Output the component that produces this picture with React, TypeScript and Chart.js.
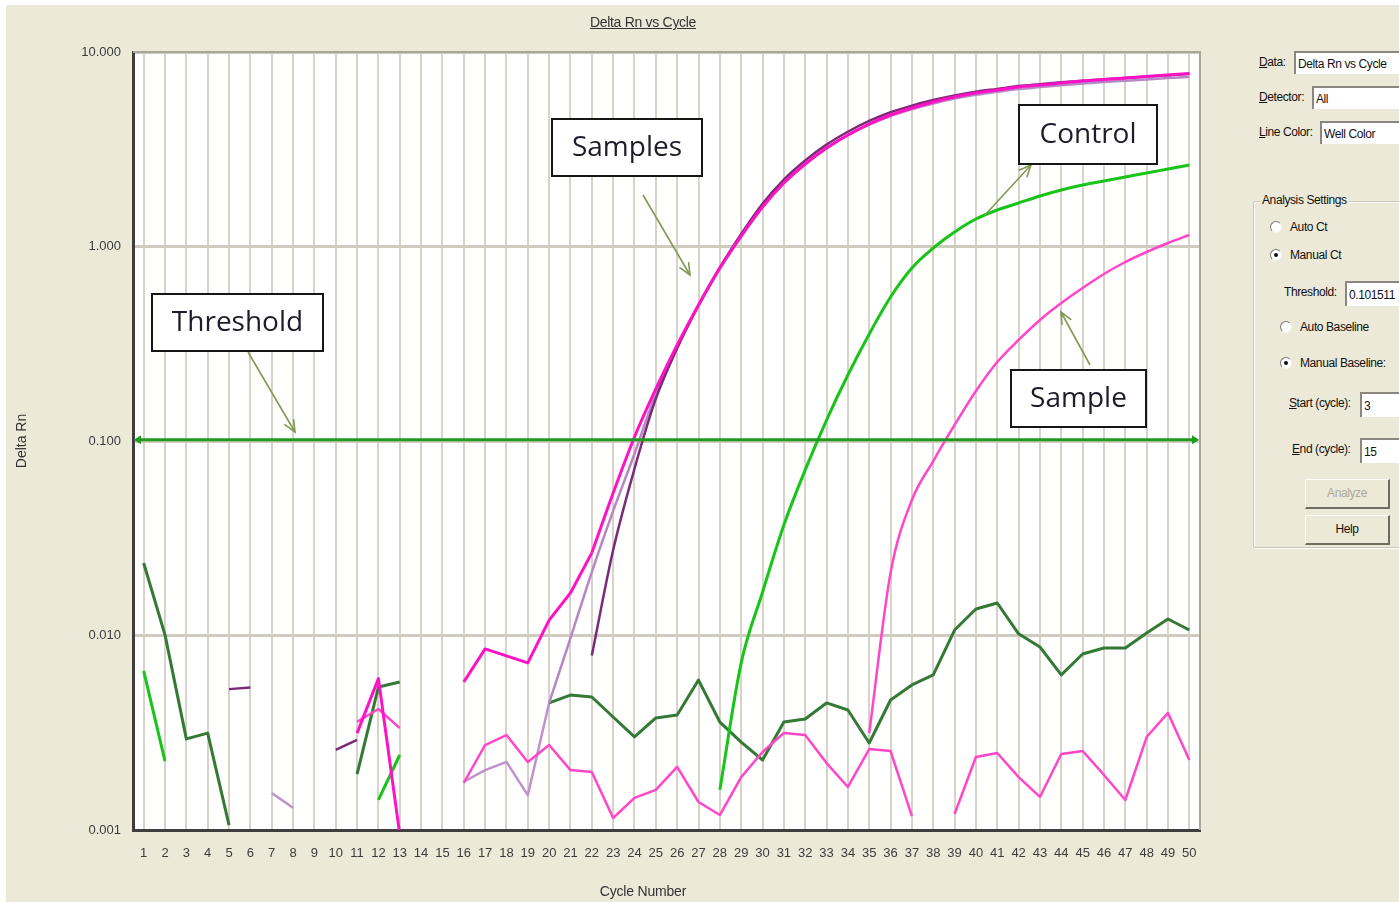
import React, { useEffect, useRef } from 'react';
import { Chart, registerables } from 'chart.js';

Chart.register(...registerables);

// ---------- data ----------
const CYCLES = [
  1, 2, 3, 4, 5, 6, 7, 8, 9, 10, 11, 12, 13, 14, 15, 16, 17, 18, 19, 20, 21, 22, 23, 24, 25,
  26, 27, 28, 29, 30, 31, 32, 33, 34, 35, 36, 37, 38, 39, 40, 41, 42, 43, 44, 45, 46, 47, 48, 49, 50,
];

const Y_TICKS = [0.001, 0.01, 0.1, 1, 10];
const Y_TICK_LABELS = ['0.001', '0.010', '0.100', '1.000', '10.000'];

const THRESHOLD = 0.101511;

const N = null;

const MAGENTA_BASE = [
  N, N, N, N, N, N, N, N, N, N, 0.00315, 0.006, 0.00095, N, N, 0.00577, 0.00853, 0.00785, 0.00723, 0.012,
  0.01655, 0.0266, N, N, N, N, N, N, N, N, N, N, N, N, N, N, N, N, N, N, N, N, N, N, N, N, N, N, N, N,
];
const MAGENTA_CURVE = [
  N, N, N, N, N, N, N, N, N, N, N, N, N, N, N, N, N, N, N, N, N, 0.0266, 0.054, 0.1048, 0.1851,
  0.3115, 0.5004, 0.7753, 1.132, 1.596, 2.121, 2.656, 3.209, 3.743, 4.264, 4.744, 5.153, 5.534, 5.871,
  6.156, 6.378, 6.61, 6.767, 6.926, 7.093, 7.222, 7.351, 7.482, 7.616, 7.753,
];
const LAVENDER_BASE = [
  N, N, N, N, N, N, 0.00155, 0.0013, N, N, N, N, N, N, N, 0.00177, 0.00203, 0.00224, 0.00151, 0.0045,
  N, N, N, N, N, N, N, N, N, N, N, N, N, N, N, N, N, N, N, N, N, N, N, N, N, N, N, N, N, N,
];
const LAVENDER_CURVE = [
  N, N, N, N, N, N, N, N, N, N, N, N, N, N, N, N, N, N, N, 0.0045, 0.0097, 0.0212, 0.0437, 0.086, 0.175,
  0.305, 0.495, 0.77, 1.13, 1.6, 2.12, 2.65, 3.19, 3.72, 4.23, 4.69, 5.08, 5.44, 5.76, 6.03, 6.24, 6.45,
  6.6, 6.75, 6.89, 7.01, 7.12, 7.23, 7.34, 7.45,
];
const DARK_PURPLE_BASE = [
  N, N, N, N, 0.0053, 0.0054, N, N, N, 0.00258, 0.00291, N, N, N, N, N, N, N, N, N, N, N, N, N, N,
  N, N, N, N, N, N, N, N, N, N, N, N, N, N, N, N, N, N, N, N, N, N, N, N, N,
];
const DARK_PURPLE_CURVE = [
  N, N, N, N, N, N, N, N, N, N, N, N, N, N, N, N, N, N, N, N, N, 0.0079, 0.0275, 0.072, 0.165,
  0.3, 0.5, 0.78, 1.16, 1.66, 2.21, 2.77, 3.34, 3.89, 4.42, 4.9, 5.3, 5.66, 5.98, 6.25, 6.46, 6.68,
  6.83, 6.98, 7.12, 7.24, 7.36, 7.48, 7.6, 7.72,
];
const LATE_SAMPLE = [
  N, N, N, N, N, N, N, N, N, N, N, N, N, N, N, N, N, N, N, N, N, N, N, N, N,
  N, N, N, N, N, N, N, N, N, 0.00315, 0.021, 0.0497, 0.0789, 0.1209, 0.1808, 0.2548, 0.3307, 0.419,
  0.5124, 0.6117, 0.7222, 0.8323, 0.937, 1.042, 1.146,
];
const PINK_BASELINE = [
  N, N, N, N, N, N, N, N, N, N, 0.0036, 0.00419, 0.00334, N, N, 0.001746, 0.002735, 0.003078, 0.002237,
  0.002735, 0.002032, 0.001986, 0.001153, 0.001462, 0.001607, 0.002109, 0.001393, 0.001194, 0.001871,
  0.002518, 0.003155, 0.003078, 0.002208, 0.001664, 0.002606, 0.002547, 0.00118, N, 0.001208, 0.002372,
  0.002489, 0.001871, 0.001479, 0.00246, 0.002547, 0.001919, 0.001426, 0.003006, 0.004, 0.00229,
];
const DARK_GREEN_BASELINE = [
  0.0236, 0.01007, 0.00294, 0.00315, 0.00106, N, N, N, N, N, 0.00194, 0.00543, 0.00577, N, N, N, N, N, N,
  0.0045, 0.00494, 0.00483, 0.00381, 0.00301, 0.00377, 0.0039, 0.0059, 0.00359, 0.00283, 0.00229, 0.00359,
  0.00372, 0.0045, 0.00414, 0.0028, 0.00466, 0.00557, 0.00627, 0.01067, 0.01368, 0.01469, 0.0102, 0.00873,
  0.00627, 0.00803, 0.00863, 0.00863, 0.0103, 0.01216, 0.01067,
];
const CONTROL_BASE = [
  0.00658, 0.00226, N, N, N, N, N, N, N, N, N, 0.00143, 0.00243, N, N, N, N, N, N, N, N, N, N, N, N,
  N, N, N, N, N, N, N, N, N, N, N, N, N, N, N, N, N, N, N, N, N, N, N, N, N,
];
const CONTROL_CURVE = [
  N, N, N, N, N, N, N, N, N, N, N, N, N, N, N, N, N, N, N, N, N, N, N, N, N, N, N,
  0.00161, 0.00723, 0.0167, 0.037, 0.071, 0.1282, 0.2184, 0.3549, 0.55, 0.7753, 0.9824, 1.188, 1.385, 1.541,
  1.674, 1.818, 1.952, 2.071, 2.172, 2.277, 2.388, 2.503, 2.624,
];

// ---------- styling / layout ----------
const AXIS_FONT = "'Liberation Sans', Arial, sans-serif";
const CALLOUT_FONT = "'Open Sans', 'Noto Sans', sans-serif";

const CALLOUTS = [
  { text: 'Threshold', box: [152, 294, 171, 57], from: [248, 352], to: [295, 432] },
  { text: 'Samples', box: [552, 119, 150, 57], from: [643, 195], to: [690, 275] },
  { text: 'Control', box: [1019, 105, 138, 59], from: [985, 215], to: [1031, 165] },
  { text: 'Sample', box: [1011, 370, 135, 57], from: [1090, 365], to: [1061, 312] },
];

function toPoints(arr: (number | null)[]) {
  return CYCLES.map((c, i) => ({ x: c, y: arr[i] }));
}

function line(label: string, arr: (number | null)[], color: string, width: number, smooth: boolean) {
  return {
    label,
    data: toPoints(arr),
    borderColor: color,
    backgroundColor: color,
    borderWidth: width,
    pointRadius: 0,
    pointHoverRadius: 0,
    fill: false,
    spanGaps: false,
    tension: 0,
    cubicInterpolationMode: smooth ? 'monotone' : 'default',
    borderJoinStyle: 'round',
  };
}

function drawArrowHead(ctx: CanvasRenderingContext2D, fx: number, fy: number, tx: number, ty: number) {
  const ang = Math.atan2(ty - fy, tx - fx);
  const len = 13;
  const spread = 0.42;
  ctx.beginPath();
  ctx.moveTo(tx - len * Math.cos(ang - spread), ty - len * Math.sin(ang - spread));
  ctx.lineTo(tx, ty);
  ctx.lineTo(tx - len * Math.cos(ang + spread), ty - len * Math.sin(ang + spread));
  ctx.stroke();
}

const plotPlugin = {
  id: 'plotDecor',
  beforeDraw(chart: any) {
    const { ctx, chartArea } = chart;
    const { left, top, right, bottom } = chartArea;
    ctx.save();
    ctx.fillStyle = '#ffffff';
    ctx.fillRect(left, top, right - left, bottom - top);
    ctx.restore();
  },
  beforeDatasetsDraw(chart: any) {
    const { ctx, chartArea } = chart;
    const { left, top, right, bottom } = chartArea;
    ctx.save();
    ctx.strokeStyle = '#a9a69a';
    ctx.lineWidth = 2;
    ctx.beginPath();
    ctx.moveTo(left, top);
    ctx.lineTo(right, top);
    ctx.lineTo(right, bottom);
    ctx.stroke();
    ctx.restore();
  },
  afterDatasetsDraw(chart: any) {
    const { ctx, chartArea } = chart;
    const { left, right } = chartArea;
    const y = chart.scales.y.getPixelForValue(THRESHOLD);
    ctx.save();
    ctx.strokeStyle = '#1f9a1f';
    ctx.fillStyle = '#1f9a1f';
    ctx.lineWidth = 3;
    ctx.beginPath();
    ctx.moveTo(left + 3, y);
    ctx.lineTo(right - 3, y);
    ctx.stroke();
    ctx.beginPath();
    ctx.moveTo(left + 1, y);
    ctx.lineTo(left + 8, y - 4.5);
    ctx.lineTo(left + 8, y + 4.5);
    ctx.closePath();
    ctx.fill();
    ctx.beginPath();
    ctx.moveTo(right - 1, y);
    ctx.lineTo(right - 8, y - 4.5);
    ctx.lineTo(right - 8, y + 4.5);
    ctx.closePath();
    ctx.fill();
    ctx.restore();
  },
  afterDraw(chart: any) {
    const { ctx } = chart;
    ctx.save();
    for (const c of CALLOUTS) {
      ctx.strokeStyle = '#7f9a52';
      ctx.lineWidth = 1.6;
      ctx.beginPath();
      ctx.moveTo(c.from[0], c.from[1]);
      ctx.lineTo(c.to[0], c.to[1]);
      ctx.stroke();
      drawArrowHead(ctx, c.from[0], c.from[1], c.to[0], c.to[1]);
      const [bx, by, bw, bh] = c.box;
      ctx.fillStyle = '#ffffff';
      ctx.fillRect(bx, by, bw, bh);
      ctx.strokeStyle = '#161616';
      ctx.lineWidth = 2;
      ctx.strokeRect(bx, by, bw, bh);
      ctx.fillStyle = '#1c1c2a';
      ctx.font = `28px ${CALLOUT_FONT}`;
      ctx.textAlign = 'center';
      ctx.textBaseline = 'middle';
      ctx.fillText(c.text, bx + bw / 2, by + bh / 2 + 1);
    }
    ctx.restore();
  },
};

// ---------- right-hand panel pieces ----------
const PANEL_FONT: React.CSSProperties = {
  fontFamily: AXIS_FONT,
  fontSize: 12,
  letterSpacing: -0.4,
  color: '#111',
  whiteSpace: 'nowrap',
  lineHeight: '14px',
};

function Label({ x, y, u, rest }: { x: number; y: number; u?: string; rest: string }) {
  return (
    <div style={{ ...PANEL_FONT, position: 'absolute', left: x, top: y - 7 }}>
      {u ? <span style={{ textDecoration: 'underline' }}>{u}</span> : null}
      {rest}
    </div>
  );
}

function Field({ x, y, h, text }: { x: number; y: number; h: number; text: string }) {
  return (
    <div
      style={{
        ...PANEL_FONT,
        position: 'absolute',
        left: x,
        top: y,
        width: 1399 - x + 20,
        height: h,
        background: '#fff',
        borderTop: '2px solid #8a887e',
        borderLeft: '2px solid #8a887e',
        boxSizing: 'border-box',
        paddingLeft: 2,
        paddingTop: Math.max(0, (h - 16) / 2),
        overflow: 'hidden',
      }}
    >
      {text}
    </div>
  );
}

function Radio({ x, y, checked, text }: { x: number; y: number; checked: boolean; text: string }) {
  return (
    <>
      <div
        style={{
          position: 'absolute',
          left: x - 6,
          top: y - 6,
          width: 12,
          height: 12,
          borderRadius: '50%',
          boxSizing: 'border-box',
          background: '#fff',
          borderTop: '1px solid #7a786e',
          borderLeft: '1px solid #7a786e',
          borderBottom: '1px solid #f4f3ee',
          borderRight: '1px solid #f4f3ee',
        }}
      >
        {checked ? (
          <div
            style={{ position: 'absolute', left: 3, top: 3, width: 4, height: 4, borderRadius: '50%', background: '#111' }}
          />
        ) : null}
      </div>
      <Label x={x + 14} y={y} rest={text} />
    </>
  );
}

function Button({ x, y, w, h, text, disabled }: { x: number; y: number; w: number; h: number; text: string; disabled?: boolean }) {
  return (
    <div
      style={{
        ...PANEL_FONT,
        position: 'absolute',
        left: x,
        top: y,
        width: w,
        height: h,
        boxSizing: 'border-box',
        background: '#ece9d8',
        borderTop: '1px solid #ffffff',
        borderLeft: '1px solid #ffffff',
        borderBottom: '2px solid #6f6d63',
        borderRight: '2px solid #6f6d63',
        textAlign: 'center',
        lineHeight: `${h - 3}px`,
        color: disabled ? '#aca899' : '#111',
      }}
    >
      {text}
    </div>
  );
}

export default function App() {
  const ref = useRef<HTMLCanvasElement>(null);

  useEffect(() => {
    const canvas = ref.current;
    if (!canvas) return;
    const datasets: any[] = [
      line('Sample A', MAGENTA_BASE, '#ff12c6', 3, false),
      line('Sample A curve', MAGENTA_CURVE, '#ff12c6', 3, true),
      line('Sample B curve', DARK_PURPLE_CURVE, '#7b2a78', 2.5, true),
      line('Sample C curve', LAVENDER_CURVE, '#b786c4', 2.5, true),
      line('Late sample', LATE_SAMPLE, '#ff46c8', 2.5, true),
      line('Pink baseline', PINK_BASELINE, '#ff46c8', 2.5, false),
      line('Control', CONTROL_CURVE, '#19c419', 3, true),
      line('Control base', CONTROL_BASE, '#19c419', 3, false),
      line('Green baseline', DARK_GREEN_BASELINE, '#347934', 3, false),
      line('Sample B base', DARK_PURPLE_BASE, '#7b2a78', 2.5, false),
      line('Sample C base', LAVENDER_BASE, '#c091cc', 2.5, false),
    ];

    const chart = new Chart(canvas, {
      type: 'line',
      data: { datasets },
      plugins: [plotPlugin as any],
      options: {
        animation: false,
        responsive: false,
        maintainAspectRatio: false,
        devicePixelRatio: 1,
        layout: { padding: { left: 0, top: 52, right: 45, bottom: 0 } },
        plugins: {
          legend: { display: false },
          tooltip: { enabled: false },
          title: { display: false },
        },
        events: [],
        scales: {
          x: {
            type: 'linear',
            min: 0.5,
            max: 50.5,
            afterBuildTicks: (s: any) => {
              s.ticks = CYCLES.map((c) => ({ value: c }));
            },
            afterFit: (s: any) => {
              s.height = 72;
            },
            ticks: {
              autoSkip: false,
              maxRotation: 0,
              minRotation: 0,
              padding: 16,
              color: '#3c3c3c',
              font: { family: AXIS_FONT, size: 13 },
              callback: (v: any) => String(v),
            },
            grid: { color: '#d7d3c8', lineWidth: 2, drawTicks: false },
            border: { color: '#3e3e3e', width: 3 },
            title: { display: false },
          },
          y: {
            type: 'logarithmic',
            min: 0.001,
            max: 10,
            afterBuildTicks: (s: any) => {
              s.ticks = Y_TICKS.map((v) => ({ value: v }));
            },
            afterFit: (s: any) => {
              s.width = 133;
            },
            ticks: {
              padding: 12,
              color: '#3c3c3c',
              font: { family: AXIS_FONT, size: 13 },
              callback: (v: any) => {
                const i = Y_TICKS.indexOf(Number(v));
                return i >= 0 ? Y_TICK_LABELS[i] : '';
              },
            },
            grid: { color: '#cfcbbf', lineWidth: 3, drawTicks: false },
            border: { color: '#3e3e3e', width: 3 },
            title: {
              display: true,
              text: 'Delta Rn',
              color: '#333',
              font: { family: AXIS_FONT, size: 14 },
              padding: { top: 14, bottom: 0 },
            },
          },
        },
      } as any,
    });
    return () => chart.destroy();
  }, []);

  return (
    <div
      style={{
        position: 'absolute',
        left: 0,
        top: 0,
        width: 1399,
        height: 902,
        background: '#ffffff',
        overflow: 'hidden',
      }}
    >
      <div style={{ position: 'absolute', left: 6, top: 5, right: 0, bottom: 0, background: '#ece9d8' }} />
      <canvas
        ref={ref}
        width={1245}
        height={902}
        style={{ position: 'absolute', left: 0, top: 0, width: 1245, height: 902 }}
      />
      <div
        style={{
          position: 'absolute',
          left: 543,
          width: 200,
          top: 14,
          textAlign: 'center',
          fontFamily: AXIS_FONT,
          fontSize: 14,
          color: '#333',
          textDecoration: 'underline',
          letterSpacing: -0.3,
        }}
      >
        Delta Rn vs Cycle
      </div>
      <div
        style={{
          position: 'absolute',
          left: 543,
          width: 200,
          top: 883,
          textAlign: 'center',
          fontFamily: AXIS_FONT,
          fontSize: 14,
          color: '#333',
          letterSpacing: -0.2,
        }}
      >
        Cycle Number
      </div>

      {/* right-hand panel */}
      <Label x={1259} y={62} u="D" rest="ata:" />
      <Field x={1294} y={51} h={23} text="Delta Rn vs Cycle" />
      <Label x={1259} y={97} u="D" rest="etector:" />
      <Field x={1312} y={86} h={23} text="All" />
      <Label x={1259} y={132} u="L" rest="ine Color:" />
      <Field x={1320} y={121} h={23} text="Well Color" />

      <div
        style={{
          position: 'absolute',
          left: 1253,
          top: 201,
          width: 170,
          height: 347,
          boxSizing: 'border-box',
          border: '1px solid #c9c6b6',
          boxShadow: 'inset 1px 1px 0 #ffffff, 1px 1px 0 #ffffff',
          borderRadius: 2,
        }}
      />
      <div style={{ ...PANEL_FONT, position: 'absolute', left: 1260, top: 193, background: '#ece9d8', padding: '0 2px' }}>
        Analysis Settings
      </div>
      <Radio x={1276} y={227} checked={false} text="Auto Ct" />
      <Radio x={1276} y={255} checked={true} text="Manual Ct" />
      <Label x={1284} y={292} rest="Threshold:" />
      <Field x={1345} y={281} h={25} text="0.101511" />
      <Radio x={1286} y={327} checked={false} text="Auto Baseline" />
      <Radio x={1286} y={363} checked={true} text="Manual Baseline:" />
      <Label x={1289} y={403} u="S" rest="tart (cycle):" />
      <Field x={1360} y={392} h={25} text="3" />
      <Label x={1292} y={449} u="E" rest="nd (cycle):" />
      <Field x={1360} y={438} h={25} text="15" />
      <Button x={1305} y={479} w={85} h={30} text="Analyze" disabled />
      <Button x={1305} y={515} w={85} h={30} text="Help" />
    </div>
  );
}
